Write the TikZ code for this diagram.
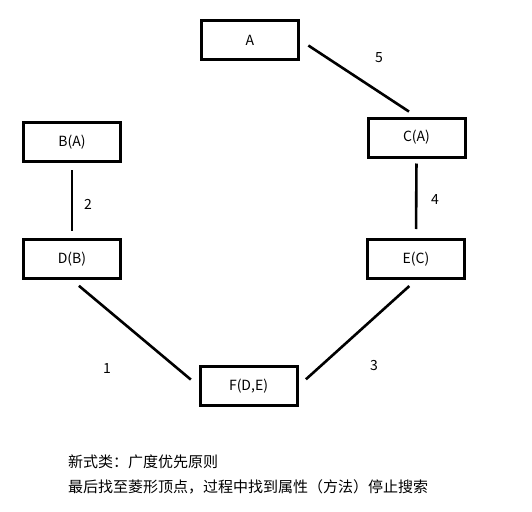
\documentclass[tikz,border=0pt]{standalone}
\usepackage{fontspec}
\setmainfont{Noto Sans CJK SC}
\begin{document}
\begin{tikzpicture}[x=1pt,y=-1pt,
  box/.style={draw=black,line width=3pt,minimum width=97pt,minimum height=39pt,inner sep=0pt,font=\fontsize{14}{16}\selectfont},
  conn/.style={line width=2.6pt},
  lbl/.style={font=\fontsize{14}{16}\selectfont,inner sep=0pt},
  note/.style={font=\fontsize{15}{18}\selectfont,inner sep=0pt,anchor=west}]
\useasboundingbox[fill=white] (0,0) rectangle (532,511);
\node[box] (A) at (250,40) {A};
\node[box] (B) at (72,142) {B(A)};
\node[box] (C) at (416.5,137.5) {C(A)};
\node[box] (D) at (72,259) {D(B)};
\node[box] (E) at (416,259) {E(C)};
\node[box] (F) at (248.5,386) {F(D,E)};
\draw[conn,shorten <=10pt,shorten >=9pt] (A.east) -- (C.north);
\draw[conn,shorten <=7pt,shorten >=7pt] (B.south) -- (D.north);
\draw[conn,shorten <=5pt,shorten >=9pt] (C.south) -- (E.north);
\draw[conn,shorten <=9pt,shorten >=10pt] (D.south) -- (F.west);
\draw[conn,shorten <=9pt,shorten >=10pt] (E.south) -- (F.east);
\node[lbl] (l5) at (379,58) {5};
\node[lbl] (l2) at (88,204) {2};
\node[lbl] (l1) at (107,369) {1};
\node[lbl] (l4) at (435,200) {4};
\node[lbl] (l3) at (374,366) {3};
\node[note] (t1) at (68,462) {新式类：广度优先原则};
\node[note] (t2) at (68,487) {最后找至菱形顶点，过程中找到属性（方法）停止搜索};
\end{tikzpicture}
\end{document}
